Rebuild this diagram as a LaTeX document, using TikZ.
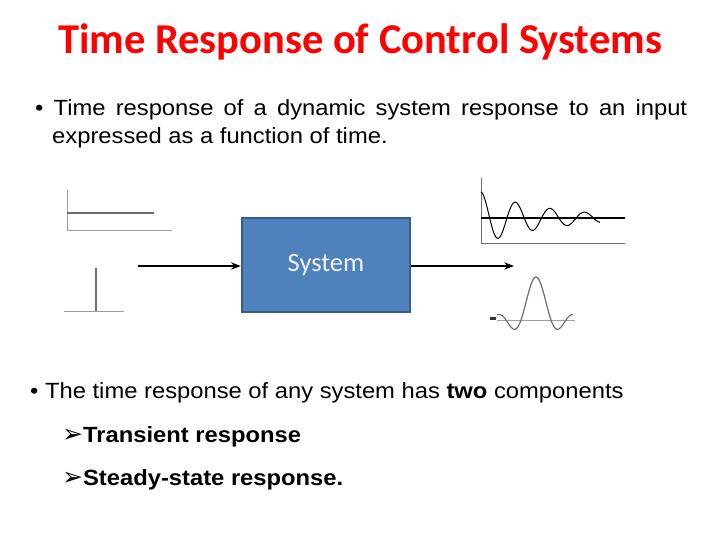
\documentclass[tikz,border=0pt]{standalone}
\usepackage{fontspec}
\setmainfont{Liberation Sans}[FakeStretch=1.08]
\newfontfamily\calibrifont{Carlito}
\newfontfamily\symbolfont{DejaVu Sans}
\usepackage{xcolor}
\usetikzlibrary{
    arrows.meta,
    positioning
}
\definecolor{boxfill}{HTML}{4F81BD}
\definecolor{boxline}{HTML}{385D8A}
\definecolor{plotgray}{HTML}{6E6E6E}
\definecolor{axisgray}{HTML}{A0A0A0}

\begin{document}
\begin{tikzpicture}[
        x=1pt, y=-1pt,
        >=Stealth,
        body/.style={
            anchor=base west,
            inner sep=0pt,
            font=\fontsize{22}{26}\selectfont
        },
        sysbox/.style={
            rectangle,
            draw=boxline,
            fill=boxfill,
            line width=2.5pt,
            minimum width=168pt,
            minimum height=94pt,
            text=white!95!black,
            font=\calibrifont\fontsize{26.5}{30}\selectfont
        },
        signal/.style={
            ->,
            line width=1.5pt
        },
        axis/.style={
            draw=axisgray,
            line width=1pt
        },
        curve/.style={
            draw=plotgray,
            line width=1.2pt
        }
    ]
        \useasboundingbox (0,0) rectangle (720,540);

        % title
        \node[anchor=base, inner sep=0pt, text=red,
            font=\calibrifont\bfseries\fontsize{42.5}{46}\selectfont]
            (title) at (360,54) {Time Response of Control Systems};

        % first bullet
        \node[body] (line1) at (35,116)
            {\makebox[652pt][s]{\textbullet{} Time response of a dynamic system response to an input}};
        \node[body] (line2) at (52,144) {expressed as a function of time.};

        % block with input and output
        \node[sysbox] (sys) at (326,265) {System};
        \coordinate (in) at (138,266);
        \coordinate (out) at (514,266);
        \draw[signal] (in) -- (sys.west |- in);
        \draw[signal] (sys.east |- out) -- (out);

        % step input
        \draw[axis] (67,190) -- (67,231) -- (172,231);
        \draw[plotgray, line width=1.5pt] (67,213) -- (154,213);

        % impulse input
        \draw[axis] (64,311) -- (124,311);
        \draw[plotgray, line width=2pt] (96,268) -- (96,311);

        % step response
        \draw[axis, draw=plotgray] (481,178) -- (481,243) -- (625,243);
        \draw[black, line width=1.5pt] (481,218) -- (625,218);
        \draw[black, line width=1pt] plot[domain=0:119, samples=160]
            ({481+\x}, {218-26*exp(-0.0144*\x)*cos(\x*10.405)});

        % impulse response
        \draw[axis] (497,320) -- (575,320);
        \fill[black!80] (490,316.5) rectangle (496,319.5);
        \draw[curve] plot[domain=-39:37, samples=76]
            ({536+\x}, {320-43*sin(\x*12)/(\x*0.20944)});

        % second bullet
        \node[body] (line3) at (30,398)
            {\textbullet{} The time response of any system has \textbf{two} components};
        \node[body, font=\bfseries\fontsize{22}{26}\selectfont] (trans) at (62,442)
            {{\symbolfont\fontsize{25}{26}\selectfont ➢}Transient response};
        \node[body, font=\bfseries\fontsize{22}{26}\selectfont] (steady) at (62,485)
            {{\symbolfont\fontsize{25}{26}\selectfont ➢}Steady-state response.};
    \end{tikzpicture}
\end{document}
